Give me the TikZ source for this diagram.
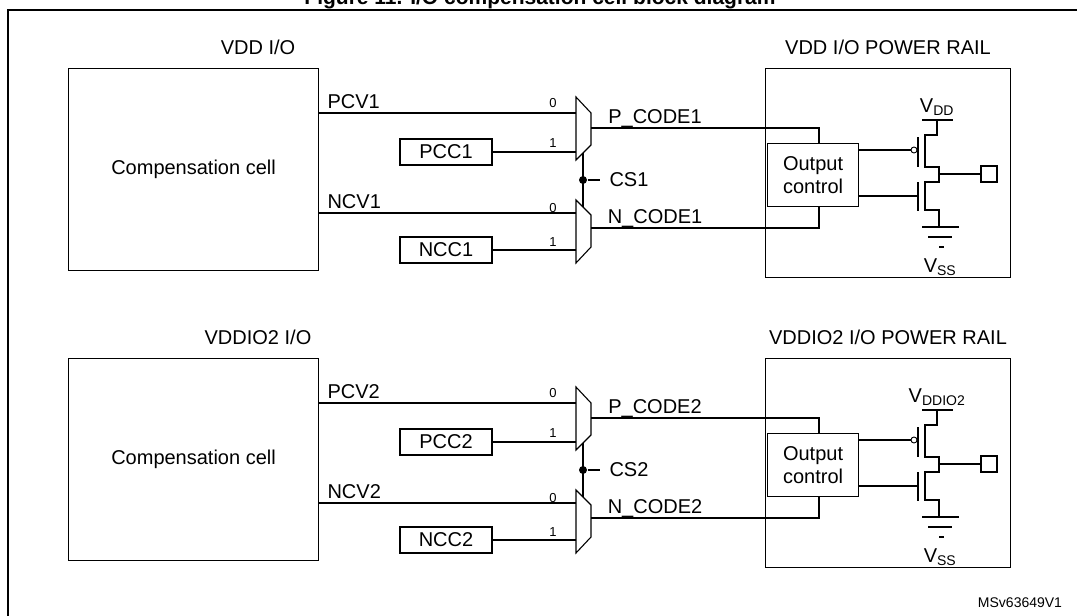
\documentclass[tikz,border=0pt]{standalone}
\usepackage{fontspec}
\setmainfont{Liberation Sans}
\begin{document}
\begin{tikzpicture}[x=1pt,y=-1pt,line width=1.1pt,
  txt/.style={inner sep=0pt,font=\fontsize{20}{23}\selectfont},
  sm/.style={inner sep=0pt,font=\fontsize{13}{14}\selectfont},
  box/.style={draw,inner sep=0pt,txt},
  dotn/.style={circle,fill,inner sep=0pt,minimum size=8pt}]
\useasboundingbox (0,0) rectangle (1077,616);
\clip (0,0) rectangle (1077,616);
\node[inner sep=0pt,font=\bfseries\fontsize{21}{23}\selectfont,anchor=base] (title) at (540,4) {Figure 11. I/O compensation cell block diagram};
\draw[line width=1.6pt] (8,630) -- (8,10) -- (1085,10);
\foreach \o/\n/\sup in {0/1/DD,290/2/DDIO2}{
\begin{scope}[yshift=-\o pt]
 \node[txt] (vio\n) at (258,47) {\ifnum\n=1 VDD I/O\else VDDIO2 I/O\fi};
 \node[box,minimum width=250pt,minimum height=202pt,anchor=north west] (cc\n) at (68,68) {Compensation cell};
 \node[txt] (rl\n) at (888,47) {\ifnum\n=1 VDD I/O POWER RAIL\else VDDIO2 I/O POWER RAIL\fi};
 \node[draw,minimum width=245pt,minimum height=209pt,anchor=north west,inner sep=0pt] (rail\n) at (765,68) {};
 \node[box,minimum width=92pt,minimum height=26pt] (pcc\n) at (446,152) {PCC\n};
 \node[box,minimum width=92pt,minimum height=26pt] (ncc\n) at (446,250) {NCC\n};
 \draw (576,97) -- (591,113) -- (591,145) -- (576,160) -- cycle;
 \draw (576,200) -- (591,215) -- (591,247) -- (576,263) -- cycle;
 \coordinate (mpa\n) at (576,113); \coordinate (mpb\n) at (576,152); \coordinate (mpo\n) at (591,128);
 \coordinate (mna\n) at (576,213); \coordinate (mnb\n) at (576,250); \coordinate (mno\n) at (591,228);
 \coordinate (mpbot\n) at (583,153); \coordinate (mntop\n) at (583,207);
 \draw (cc\n.east |- mpa\n) -- (mpa\n);
 \node[txt,anchor=base west] (pcv\n) at (327,108) {PCV\n};
 \draw (cc\n.east |- mna\n) -- (mna\n);
 \node[txt,anchor=base west] (ncv\n) at (327,208) {NCV\n};
 \draw (pcc\n) -- (mpb\n); \draw (ncc\n) -- (mnb\n);
 \node[sm] at (553,103) {0}; \node[sm] at (553,143) {1};
 \node[sm] at (553,208) {0}; \node[sm] at (553,242) {1};
 \draw (mpbot\n) -- (mntop\n);
 \node[dotn] (cs\n) at (583,180) {};
 \coordinate (cse\n) at (600,180);
 \draw (cs\n) -- (cse\n) node[txt,right=9pt] {CS\n};
 \node[box,minimum width=91pt,minimum height=63pt,anchor=north west,align=center,font=\fontsize{20}{23}\selectfont] (oc\n) at (767,143) {Output\\control};
 \draw (mpo\n) -- (819,128) -- (oc\n.north -| 819,0);
 \node[txt,anchor=base] (pc\n) at (655,123) {P\_CODE\n};
 \draw (mno\n) -- (819,228) -- (oc\n.south -| 819,0);
 \node[txt,anchor=base] (nc\n) at (655,223) {N\_CODE\n};
 \draw (922,120) -- (953,120); \node[txt,anchor=base] (vdd\n) at (937,112) {V\textsubscript{\fontsize{14}{15}\selectfont\sup}};
 \draw (937,120) -- (937,135) -- (925,135) -- (925,167) -- (939,167) -- (939,182) -- (925,182) -- (925,210) -- (939,210) -- (939,227);
 \draw (918,137) -- (918,167); \draw (918,182) -- (918,211);
 \node[draw,circle,inner sep=0pt,minimum size=6pt,line width=0.9pt] (bub\n) at (914,150) {};
 \draw (oc\n.east |- bub\n) -- (bub\n);
 \coordinate (ng\n) at (918,196);
 \draw (oc\n.east |- ng\n) -- (ng\n);
 \node[draw,minimum size=16pt,inner sep=0pt] (pad\n) at (989,174) {};
 \draw (939,174) -- (pad\n);
 \draw (922,227) -- (959,227); \draw (928,237) -- (952,237); \draw (939,247) -- (944,247);
 \node[txt,anchor=base] (vss\n) at (940,272) {V\textsubscript{\fontsize{14}{15}\selectfont SS}};
\end{scope}}
\node[inner sep=0pt,font=\fontsize{14}{15}\selectfont] (ms) at (1020,603) {MSv63649V1};
\end{tikzpicture}
\end{document}
